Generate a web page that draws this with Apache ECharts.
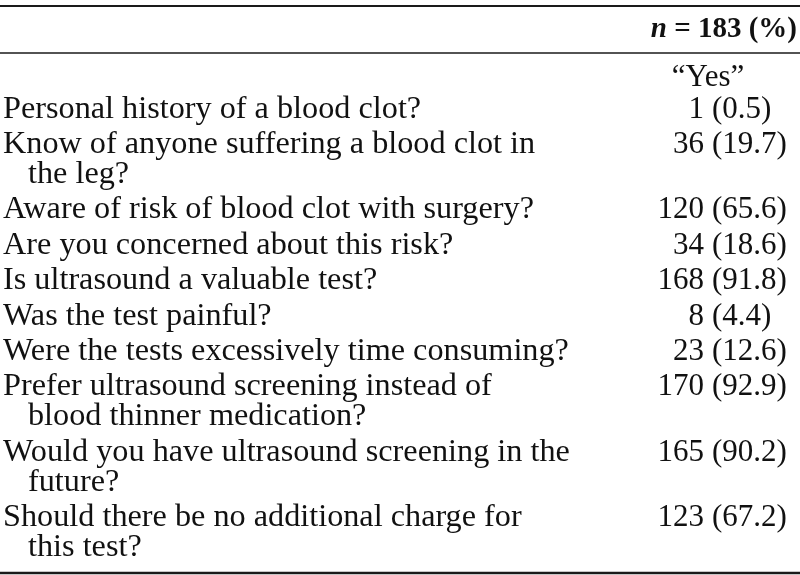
<!DOCTYPE html>
<html>
<head>
<meta charset="utf-8">
<script src="https://cdn.jsdelivr.net/npm/echarts@6/dist/echarts.min.js"></script>
<style>html,body{margin:0;padding:0;background:#fff}#c{width:800px;height:575px}</style>
</head>
<body>
<div id="c"></div>
<script>
// ---- data ----
const questions = [
  "Personal history of a blood clot?",
  "Know of anyone suffering a blood clot in\nthe leg?",
  "Aware of risk of blood clot with surgery?",
  "Are you concerned about this risk?",
  "Is ultrasound a valuable test?",
  "Was the test painful?",
  "Were the tests excessively time consuming?",
  "Prefer ultrasound screening instead of\nblood thinner medication?",
  "Would you have ultrasound screening in the\nfuture?",
  "Should there be no additional charge for\nthis test?"
];
const yesCounts = [1, 36, 120, 34, 168, 8, 23, 170, 165, 123];
const yesPercents = ["0.5", "19.7", "65.6", "18.6", "91.8", "4.4", "12.6", "92.9", "90.2", "67.2"];
const headerN = "n";
const headerRest = " = 183 (%)";
const subHeader = "\u201CYes\u201D";

// ---- layout (styling constants) ----
const W = 800, H = 575;
const FONT = '"Liberation Serif", "Times New Roman", serif';
const FS = 31;
const Q_SCALE_X = 1.04;
const FIRST_BASELINE = 119;
const ROW_GAP = 35.4;
const CONT_GAP = 30;
const MID_OFF = 9.5;          // baseline -> middle of em box
const Q_X = 3, Q_INDENT_X = 28;
const COUNT_RIGHT_X = 704, PCT_LEFT_X = 712;
const SUB_X = 708, SUB_BASELINE = 87;
const HEAD_RIGHT_X = 797, HEAD_BASELINE = 39;
const RULES = [{y: 5.5, w: 2}, {y: 52.5, w: 1.6}, {y: 572.5, w: 2.4}];

// compute row baselines from line counts
const rowData = [];
let yb = FIRST_BASELINE;
questions.forEach((q, i) => {
  rowData.push([i, yb]);
  const n = q.split('\n').length;
  yb += (n - 1) * CONT_GAP + ROW_GAP;
});

const chart = echarts.init(document.getElementById('c'), null, {renderer: 'canvas'});
chart.setOption({
  animation: false,
  backgroundColor: '#fff',
  grid: {left: 0, right: 0, top: 0, bottom: 0},
  xAxis: {type: 'value', min: 0, max: W, show: false},
  yAxis: {type: 'value', min: 0, max: H, inverse: true, show: false},
  series: [
    {
      type: 'custom',
      clip: false,
      silent: true,
      data: rowData,
      renderItem: function (params, api) {
        const idx = api.value(0);
        const base = api.value(1);
        const lines = questions[idx].split('\n');
        const children = [];
        lines.forEach((ln, k) => {
          const p = api.coord([k === 0 ? Q_X : Q_INDENT_X, base + k * CONT_GAP - MID_OFF]);
          children.push({type: 'text', x: p[0], y: p[1], scaleX: Q_SCALE_X,
            style: {text: ln, x: 0, y: 0, font: FS + 'px ' + FONT, fill: '#111', align: 'left', verticalAlign: 'middle'}});
        });
        const pc = api.coord([COUNT_RIGHT_X, base - MID_OFF]);
        children.push({type: 'text', style: {text: String(yesCounts[idx]), x: pc[0], y: pc[1], font: FS + 'px ' + FONT, fill: '#111', align: 'right', verticalAlign: 'middle'}});
        const pp = api.coord([PCT_LEFT_X, base - MID_OFF]);
        children.push({type: 'text', style: {text: '(' + yesPercents[idx] + ')', x: pp[0], y: pp[1], font: FS + 'px ' + FONT, fill: '#111', align: 'left', verticalAlign: 'middle'}});
        return {type: 'group', children: children};
      }
    },
    {
      type: 'custom',
      clip: false,
      silent: true,
      data: [[0]],
      renderItem: function (params, api) {
        const ph = api.coord([HEAD_RIGHT_X, HEAD_BASELINE - 9]);
        const ps = api.coord([SUB_X, SUB_BASELINE - MID_OFF]);
        return {type: 'group', children: [
          {type: 'text', style: {
            text: '{i|' + headerN + '}{b|' + headerRest + '}',
            x: ph[0], y: ph[1], align: 'right', verticalAlign: 'middle',
            rich: {
              i: {font: 'italic bold 29px ' + FONT, fill: '#111'},
              b: {font: 'bold 29px ' + FONT, fill: '#111'}
            }
          }},
          {type: 'text', style: {text: subHeader, x: ps[0], y: ps[1], font: FS + 'px ' + FONT, fill: '#111', align: 'center', verticalAlign: 'middle'}}
        ]};
      },
      markLine: {
        silent: true,
        symbol: 'none',
        label: {show: false},
        animation: false,
        data: RULES.map(r => ({yAxis: r.y, lineStyle: {color: '#1a1a1a', width: r.w, type: 'solid'}}))
      }
    }
  ]
});
</script>
</body>
</html>
